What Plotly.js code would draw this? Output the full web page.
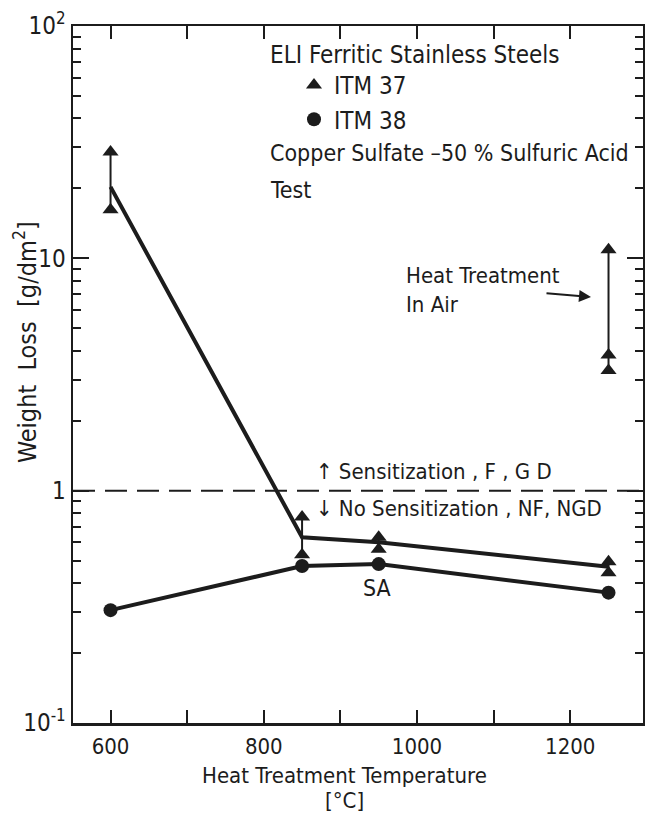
<!DOCTYPE html>
<html>
<head>
<meta charset="utf-8">
<script src="https://cdn.plot.ly/plotly-3.0.1.min.js"></script>
<style>html,body{margin:0;padding:0;background:#fff;}#chart{width:645px;height:819px;}</style>
</head>
<body>
<div id="chart"></div>
<script>
// ---- data ----
const meanTemps = [600, 850, 950, 1250];
const itm37Mean = [20.3, 0.63, 0.60, 0.47];
const itm38Values = [0.306, 0.474, 0.483, 0.364];

const itm37Temps = [600, 600, 850, 850, 950, 950, 1250, 1250];
const itm37Values = [28.7, 16.2, 0.77, 0.53, 0.63, 0.56, 0.494, 0.443];

const airTemps = [1250, 1250, 1250];
const airValues = [10.9, 3.84, 3.29];

const sensitizationLimit = 1;

const xTickVals = [600, 800, 1000, 1200];
const xTickText = ['600', '800', '1000', '1200'];
const xMinorVals = [700, 900, 1100];
const yTickVals = [0.1, 1, 10, 100];
const yTickText = ['10<sup>-1</sup>', '1', '10', '10<sup>2</sup>'];
const yMinorVals = [0.2,0.3,0.4,0.5,0.6,0.7,0.8,0.9,2,3,4,5,6,7,8,9,20,30,40,50,60,70,80,90];

// ---- styling ----
const INK = '#1c1c1c';
const FONT = 'DejaVu Sans Condensed, Liberation Sans Narrow, sans-serif';

// range lines (scatter of repeat tests at one temperature)
function rangeTraces(temps, vals) {
  const groups = {};
  temps.forEach((t, i) => { (groups[t] = groups[t] || []).push(vals[i]); });
  return Object.keys(groups).map(t => {
    const v = groups[t];
    return {
      x: [Number(t), Number(t)], y: [Math.min(...v), Math.max(...v)],
      mode: 'lines', line: {color: INK, width: 2}, showlegend: false, hoverinfo: 'skip'
    };
  });
}

const traces = [
  ...rangeTraces(itm37Temps, itm37Values),
  ...rangeTraces(airTemps, airValues),
  {x: meanTemps, y: itm37Mean, mode: 'lines', line: {color: INK, width: 4},
   showlegend: false, name: 'ITM 37 mean'},
  {x: meanTemps, y: itm38Values, mode: 'lines', line: {color: INK, width: 4},
   showlegend: false, name: 'ITM 38 line'},
  {x: itm37Temps, y: itm37Values, mode: 'markers', name: 'ITM 37',
   marker: {symbol: 'triangle-up', size: 14, color: INK}},
  {x: meanTemps, y: itm38Values, mode: 'markers', name: 'ITM 38',
   marker: {symbol: 'circle', size: 14, color: INK}},
  {x: airTemps, y: airValues, mode: 'markers', name: 'Heat Treatment In Air', showlegend: false,
   marker: {symbol: 'triangle-up', size: 14, color: INK}}
];

const L = 73, R = 643, T = 26, B = 723;
const px = v => (v - L) / (R - L);
const py = v => (B - v) / (B - T);
const txt = (text, x, y, size, opts = {}) => Object.assign({
  text, xref: 'paper', yref: 'paper', x: px(x), y: py(y),
  xanchor: 'left', yanchor: 'middle', showarrow: false,
  font: {family: FONT, size: size, color: INK}
}, opts);

const layout = {
  width: 645, height: 819,
  margin: {l: L, r: 645 - R, t: T, b: 819 - B},
  paper_bgcolor: '#fff', plot_bgcolor: '#fff',
  font: {family: FONT, color: INK, size: 23},
  showlegend: true,
  legend: {x: px(294), y: py(63), xanchor: 'left', yanchor: 'top',
           bgcolor: 'rgba(0,0,0,0)', font: {family: FONT, size: 24, color: INK},
           itemwidth: 30, tracegroupgap: 0},
  xaxis: {
    range: [551, 1295], tickmode: 'array', tickvals: xTickVals, ticktext: xTickText,
    ticks: 'inside', ticklen: 13, tickwidth: 2, tickcolor: INK, ticklabelstandoff: 2,
    minor: {ticks: 'inside', ticklen: 13, tickwidth: 2, tickcolor: INK, tickmode: 'array',
            tickvals: xMinorVals, showgrid: false},
    showline: true, linewidth: 2.5, linecolor: INK, mirror: 'ticks',
    showgrid: false, zeroline: false, tickfont: {family: FONT, size: 22, color: INK}
  },
  yaxis: {
    type: 'log', range: [-1, 2], tickmode: 'array', tickvals: yTickVals, ticktext: yTickText,
    ticks: 'inside', ticklen: 16, tickwidth: 2, tickcolor: INK,
    minor: {ticks: 'inside', ticklen: 8, tickwidth: 2, tickcolor: INK, tickmode: 'array',
            tickvals: yMinorVals, showgrid: false},
    showline: true, linewidth: 2.5, linecolor: INK, mirror: 'ticks',
    showgrid: false, zeroline: false, tickfont: {family: FONT, size: 24, color: INK}
  },
  shapes: [
    {type: 'line', xref: 'paper', x0: 0, x1: 1, yref: 'y', y0: sensitizationLimit, y1: sensitizationLimit,
     line: {color: INK, width: 2, dash: '22px,10px'}}
  ],
  annotations: [
    txt('ELI Ferritic Stainless Steels', 268, 55, 24),
    txt('Copper Sulfate \u201350 % Sulfuric Acid', 268, 153, 23),
    txt('Test', 268, 190, 23),
    txt('Heat Treatment<br>In Air', 404, 290, 22, {align: 'left'}),
    txt('\u2191 Sensitization , F , G D', 314, 471, 22),
    txt('\u2193 No Sensitization , NF, NGD', 314, 508, 22),
    txt('SA', 377, 588, 23, {xanchor: 'center'}),
    {xref: 'paper', yref: 'paper', x: px(591), y: py(297), ax: -46, ay: -4,
     showarrow: true, arrowhead: 2, arrowsize: 1.2, arrowwidth: 2, arrowcolor: INK, text: ''},
    txt('Weight  Loss  [g/dm<sup>2</sup>]', 25, 342, 25, {xanchor: 'center', textangle: -90}),
    txt('Heat Treatment Temperature', 344, 776, 22, {xanchor: 'center'}),
    txt('[\u00b0C]', 344, 801, 22, {xanchor: 'center'})
  ]
};

Plotly.newPlot('chart', traces, layout, {staticPlot: true, displayModeBar: false});
</script>
</body>
</html>
